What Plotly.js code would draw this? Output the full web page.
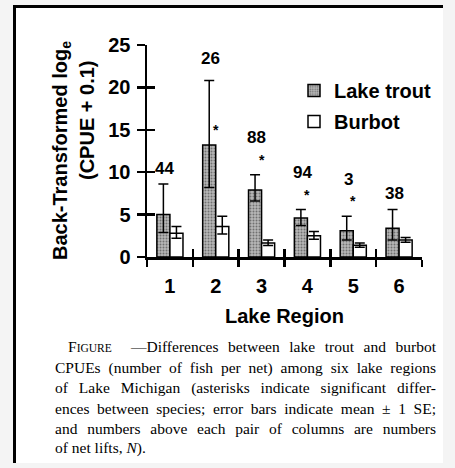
<!DOCTYPE html>
<html>
<head>
<meta charset="utf-8">
<script src="https://cdn.plot.ly/plotly-3.0.1.min.js"></script>
<style>
  html, body { margin: 0; padding: 0; background: #ffffff; }
  #wrap { position: relative; width: 455px; height: 468px; overflow: hidden; background: #f4f4f4; }
  #frame { position: absolute; left: 13px; top: 5px; width: 427px; height: 455px;
           background: #ffffff; border-left: 3px solid #000; border-top: 3px solid #000; }
  #chart { position: absolute; left: 0; top: 0; width: 455px; height: 468px; }
</style>
</head>
<body>
<div id="wrap">
  <div id="frame"></div>
  <div id="chart"></div>
</div>
<script>
// ---- data ----
const regions      = [1, 2, 3, 4, 5, 6];
const regionLabels = ['1', '2', '3', '4', '5', '6'];
const troutMean    = [5.0, 13.2, 7.9, 4.6, 3.1, 3.4];
const troutUpper   = [8.6, 20.8, 9.7, 5.6, 4.8, 5.6];
const troutLower   = [2.9, 8.2, 6.6, 3.7, 2.0, 2.0];
const burbotMean   = [2.8, 3.6, 1.65, 2.5, 1.4, 2.0];
const burbotUpper  = [3.6, 4.8, 2.0, 3.0, 1.65, 2.3];
const burbotLower  = [2.2, 2.7, 1.35, 2.1, 1.15, 1.75];
const nLifts       = [44, 26, 88, 94, 3, 38];
const significant  = [false, true, true, true, true, false];
const yTicks       = [0, 5, 10, 15, 20, 25];

const captionLines = [
  '\u2014Differences between lake trout and burbot',
  'CPUEs (number of fish per net) among six lake regions',
  'of Lake Michigan (asterisks indicate significant differ-',
  'ences between species; error bars indicate mean \u00b1 1 SE;',
  'and numbers above each pair of columns are numbers',
  'of net lifts, N).'
];

// ---- layout geometry (pixels) ----
const W = 455, H = 468;
const M = { l: 147, r: 33, t: 45, b: 211 };
const PW = W - M.l - M.r, PH = H - M.t - M.b;
const px2x = p => (p - M.l) / PW;
const px2y = p => (H - M.b - p) / PH;

const SANS = 'Arial, "Liberation Sans", sans-serif';
const SERIF = '"Liberation Serif", "Times New Roman", serif';
const boldFont = (s) => ({ family: SANS, size: s, color: '#000', weight: 'bold' });

const diff = (a, b) => a.map((v, i) => +(v - b[i]).toFixed(3));

const trout = {
  type: 'bar', name: 'Lake trout', x: regions, y: troutMean,
  marker: {
    color: '#a9a9a9',
    line: { color: '#000', width: 1.5 },
    pattern: { shape: '.', fgcolor: '#707070', bgcolor: '#b8b8b8', size: 3, solidity: 0.35 }
  },
  error_y: { type: 'data', symmetric: false, array: diff(troutUpper, troutMean),
             arrayminus: diff(troutMean, troutLower), color: '#000', thickness: 1.5, width: 5 },
  legendgroup: 'a', hoverinfo: 'skip'
};
const burbot = {
  type: 'bar', name: 'Burbot', x: regions, y: burbotMean,
  marker: { color: '#ffffff', line: { color: '#000', width: 1.5 } },
  error_y: { type: 'data', symmetric: false, array: diff(burbotUpper, burbotMean),
             arrayminus: diff(burbotMean, burbotLower), color: '#000', thickness: 1.5, width: 5 },
  legendgroup: 'b', hoverinfo: 'skip'
};
// invisible helper trace so the overlaid tick axes are drawn
const helper = { type: 'scatter', x: [], y: [], xaxis: 'x2', yaxis: 'y2', showlegend: false, hoverinfo: 'skip' };

const boundaries = [];
for (let i = 0; i <= regions.length; i++) boundaries.push(regions[0] - 0.5 + i);

const annotations = [];
regions.forEach((r, i) => {
  const top = troutUpper[i];
  const beside = significant[i] && top > 15;
  if (significant[i]) {
    annotations.push({ x: r, y: beside ? troutMean[i] : top, xref: 'x', yref: 'y',
      text: '*', showarrow: false, yshift: 15, yanchor: 'middle',
      font: { family: SANS, size: 14, color: '#000', weight: 'bold' } });
  }
  const shift = beside ? 22 : (significant[i] ? 37 : 16);
  annotations.push({ x: r, y: top, xref: 'x', yref: 'y', text: String(nLifts[i]),
    showarrow: false, yshift: shift, xshift: -5, yanchor: 'middle', font: boldFont(17) });
});

// y-axis title (two lines, as in the reference)
annotations.push({ xref: 'paper', yref: 'paper', x: px2x(61), y: px2y(151),
  text: 'Back-Transformed log<sub>e</sub>', textangle: -90, showarrow: false,
  xanchor: 'center', yanchor: 'middle', font: boldFont(20) });
annotations.push({ xref: 'paper', yref: 'paper', x: px2x(87), y: px2y(121),
  text: '(CPUE + 0.1)', textangle: -90, showarrow: false,
  xanchor: 'center', yanchor: 'middle', font: boldFont(20) });

// caption: justified lines (word spacing computed from measured widths)
const CAP_SIZE = 15.5, CAP_SC = 11.5;
const cv = document.createElement('canvas').getContext('2d');
const measure = (s, size) => { cv.font = size + 'px "Liberation Serif"'; return cv.measureText(s).width; };
const countSpaces = s => (s.match(/[ \u00a0]/g) || []).length;
const capY = [346, 368, 388, 408, 428, 448];
const capLeft = [66, 53, 53, 53, 53, 53];
const capRight = 434;
captionLines.forEach((t, i) => {
  let text;
  if (i === 0) {
    const rest = '\u00a0\u00a0' + t;
    const natural = measure('F', CAP_SIZE) + measure('IGURE', CAP_SC) + measure(rest, CAP_SIZE);
    const ws = Math.max(0, (capRight - capLeft[i] - natural) / countSpaces(rest)).toFixed(2);
    text = 'F<span style="font-size:' + CAP_SC + 'px">IGURE</span>' +
           '<span style="word-spacing:' + ws + 'px">' + rest + '</span>';
  } else if (i === captionLines.length - 1) {
    text = t.replace('N', '<i>N</i>');
  } else {
    const ws = Math.max(0, (capRight - capLeft[i] - measure(t, CAP_SIZE)) / countSpaces(t)).toFixed(2);
    text = '<span style="word-spacing:' + ws + 'px">' + t + '</span>';
  }
  annotations.push({ xref: 'paper', yref: 'paper', x: px2x(capLeft[i]), y: px2y(capY[i]),
    text: text, showarrow: false, xanchor: 'left', yanchor: 'middle', align: 'left',
    font: { family: SERIF, size: CAP_SIZE, color: '#000' } });
});

const layout = {
  width: W, height: H,
  margin: M,
  paper_bgcolor: 'rgba(0,0,0,0)', plot_bgcolor: 'rgba(0,0,0,0)',
  barmode: 'group', bargap: 0.43, bargroupgap: 0,
  showlegend: true,
  legend: { x: px2x(294), y: px2y(71), xanchor: 'left', yanchor: 'top',
            font: boldFont(20), bgcolor: 'rgba(0,0,0,0)', tracegroupgap: 2,
            traceorder: 'grouped', itemwidth: 30 },
  xaxis: {
    range: [0.5, 6.5], tickmode: 'array', tickvals: regions, ticktext: regionLabels,
    ticks: '', showgrid: false, zeroline: false, showline: true, linecolor: '#000', linewidth: 2.5,
    tickfont: boldFont(20), ticklabelstandoff: 9,
    minor: { tickmode: 'array', tickvals: boundaries, ticks: 'outside', ticklen: 7, tickwidth: 2.5, tickcolor: '#000', showgrid: false },
    title: { text: 'Lake Region', font: boldFont(20), standoff: 14 },
    fixedrange: true
  },
  xaxis2: {
    overlaying: 'x', anchor: 'y', range: [0.5, 6.5], tickmode: 'array', tickvals: boundaries,
    ticks: 'inside', ticklen: 8, tickwidth: 2.5, tickcolor: '#000', showticklabels: false,
    showgrid: false, zeroline: false, showline: false
  },
  yaxis: {
    range: [0, 25], tickmode: 'array', tickvals: yTicks, ticks: 'outside', ticklen: 8,
    tickwidth: 2.5, tickcolor: '#000', showgrid: false, zeroline: false, showline: true,
    linecolor: '#000', linewidth: 2.5, tickfont: boldFont(20), ticklabelstandoff: 2, fixedrange: true
  },
  yaxis2: {
    overlaying: 'y', anchor: 'x', side: 'left', range: [0, 25], tickmode: 'array', tickvals: yTicks,
    ticks: 'inside', ticklen: 8, tickwidth: 2.5, tickcolor: '#000', showticklabels: false,
    showgrid: false, zeroline: false, showline: false
  },
  annotations: annotations
};

Plotly.newPlot('chart', [trout, burbot, helper], layout, { displayModeBar: false, staticPlot: true });
</script>
</body>
</html>
